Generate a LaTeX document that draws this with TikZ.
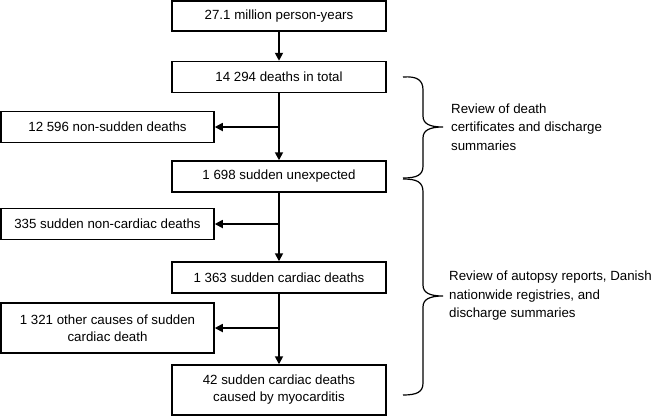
\documentclass[tikz,border=0pt]{standalone}
\usepackage{fontspec}
\setmainfont{Liberation Sans}
\usetikzlibrary{arrows.meta}
\tikzset{
  boite/.style={draw, line width=1.5pt, minimum width=214pt, minimum height=31pt,
    inner sep=0pt, align=center, font=\fontsize{13.3}{17}\selectfont},
  cote/.style={boite, minimum width=213pt},
  fleche/.style={line width=1.7pt, -{Triangle[length=8pt,width=8pt]}},
  revue/.style={anchor=west, inner sep=0pt, align=left, font=\fontsize{13.3}{18.5}\selectfont},
}
\begin{document}
\begin{tikzpicture}[x=1pt,y=-1pt]
\useasboundingbox (0,0) rectangle (656,416);
\node[boite, minimum height=30pt] (annees) at (279,16) {27.1 million person-years};
\node[boite] (total) at (279,77) {14 294 deaths in total};
\node[boite] (subite) at (279,176.5) {1 698 sudden unexpected};
\node[boite] (cardiaque) at (279,277.5) {1 363 sudden cardiac deaths};
\node[boite, minimum height=50pt] (myo) at (279,390) {42 sudden cardiac deaths\\caused by myocarditis};
%
\node[cote] (nonsubite) at (107.5,127) {12 596 non-sudden deaths};
\node[cote] (noncard) at (107.5,224) {335 sudden non-cardiac deaths};
\node[cote, minimum height=50pt] (autres) at (107.5,328) {1 321 other causes of sudden\\cardiac death};
%
\draw[fleche] (annees) -- (total);
\draw[fleche] (total) -- (subite);
\draw[fleche] (subite) -- (cardiaque);
\draw[fleche] (cardiaque) -- (myo);
\draw[fleche] (total.south |- nonsubite.east) -- (nonsubite.east);
\draw[fleche] (subite.south |- noncard.east) -- (noncard.east);
\draw[fleche] (cardiaque.south |- autres.east) -- (autres.east);
%
\draw[line width=1.2pt] (403,77) .. controls (417,76) and (423,80) .. (423,90) -- (423,116)
  .. controls (423,124) and (430,127) .. (443,127)
  .. controls (430,127) and (423,130) .. (423,138) -- (423,166)
  .. controls (423,175) and (417,178) .. (403,178); % accolade 1
\draw[line width=1.2pt] (403,179) .. controls (417,179) and (423,182) .. (423,192) -- (423,285)
  .. controls (423,293) and (430,296) .. (443,296)
  .. controls (430,296) and (423,299) .. (423,307) -- (423,383)
  .. controls (423,392) and (417,395) .. (403,395); % accolade 2
%
\node[revue] (revue1) at (451,127) {Review of death\\certificates and discharge\\summaries};
\node[revue] (revue2) at (449,296) {Review of autopsy reports, Danish\\nationwide registries, and\\discharge summaries};
\end{tikzpicture}
\end{document}
